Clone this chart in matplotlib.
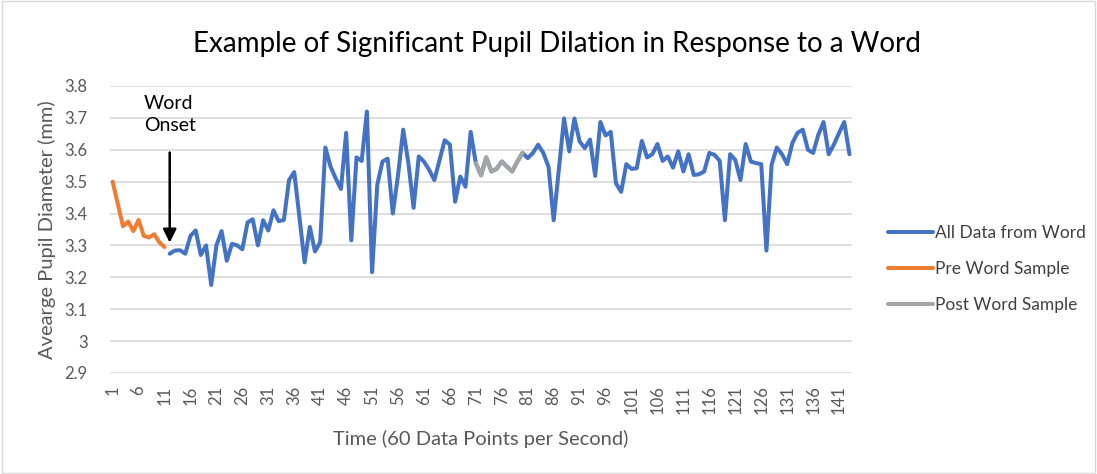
import matplotlib
matplotlib.use('Agg')
import matplotlib.pyplot as plt
from matplotlib.patches import Rectangle

#%% Data

pre_x = list(range(1, 12))
pre_y = [3.50, 3.43, 3.36, 3.375, 3.345, 3.38, 3.33, 3.325, 3.335, 3.31, 3.295]

all_x = list(range(12, 144))
all_y = [3.274, 3.284, 3.285, 3.274, 3.33, 3.347, 3.27, 3.30, 3.176, 3.30,
         3.345, 3.252, 3.305, 3.30, 3.288, 3.372, 3.382, 3.30, 3.379, 3.347,
         3.41, 3.376, 3.38, 3.505, 3.53, 3.39, 3.247, 3.358, 3.281, 3.31,
         3.607, 3.547, 3.51, 3.477, 3.653, 3.316, 3.576, 3.565, 3.72, 3.216,
         3.49, 3.563, 3.572, 3.40, 3.52, 3.663, 3.558, 3.418, 3.579, 3.563,
         3.537, 3.505, 3.568, 3.63, 3.616, 3.437, 3.516, 3.484, 3.656, 3.558,
         3.52, 3.576, 3.532, 3.54, 3.563, 3.547, 3.532, 3.563, 3.59, 3.574,
         3.59, 3.616, 3.59, 3.547, 3.379, 3.54, 3.698, 3.595, 3.698, 3.626,
         3.605, 3.632, 3.518, 3.687, 3.645, 3.656, 3.495, 3.468, 3.555, 3.54,
         3.542, 3.628, 3.576, 3.586, 3.618, 3.565, 3.579, 3.544, 3.595, 3.532,
         3.586, 3.521, 3.523, 3.532, 3.59, 3.584, 3.565, 3.379, 3.586, 3.568,
         3.505, 3.618, 3.563, 3.558, 3.555, 3.284, 3.553, 3.607, 3.586, 3.555,
         3.621, 3.653, 3.663, 3.60, 3.59, 3.647, 3.687, 3.586, 3.616, 3.653,
         3.687, 3.586]

post_x = list(range(71, 81))
post_y = [3.558, 3.52, 3.576, 3.532, 3.54, 3.563, 3.547, 3.532, 3.563, 3.59]

xtick_vals = list(range(1, 144, 5))
ytick_vals = [2.9, 3.0, 3.1, 3.2, 3.3, 3.4, 3.5, 3.6, 3.7, 3.8]
ytick_labels = ['2.9', '3', '3.1', '3.2', '3.3', '3.4', '3.5', '3.6', '3.7', '3.8']

#%% Plot

plt.rcParams['font.family'] = 'Lato'
text_grey = '#595959'
lw = 2.9

fig = plt.figure(figsize=(10.97, 4.74), dpi=100)
ax = fig.add_axes([0.1003, 0.2131, 0.6764, 0.6055])

ax.plot(all_x, all_y, color='#4472C4', lw=lw, label='All Data from Word', solid_capstyle='round')
ax.plot(pre_x, pre_y, color='#ED7D31', lw=lw, label='Pre Word Sample', solid_capstyle='round')
ax.plot(post_x, post_y, color='#A5A5A5', lw=lw, label='Post Word Sample', solid_capstyle='round')

ax.set_xlim(0.5, 143.5)
ax.set_ylim(2.9, 3.8)
ax.set_xticks(xtick_vals)
ax.set_xticklabels([str(v) for v in xtick_vals], rotation=90)
ax.set_yticks(ytick_vals)
ax.set_yticklabels(ytick_labels)
ax.tick_params(axis='both', length=0, labelsize=12, colors=text_grey)
ax.tick_params(axis='x', pad=9)
ax.tick_params(axis='y', pad=16)
ax.grid(axis='y', color='#D9D9D9', lw=1.2)
ax.set_axisbelow(True)
for s in ax.spines.values():
    s.set_visible(False)

ax.set_ylabel('Avearge Pupil Diameter (mm)', fontsize=14.5, color=text_grey, labelpad=6)
ax.set_xlabel('Time (60 Data Points per Second)', fontsize=14.5, color=text_grey, labelpad=11)
fig.text(0.508, 0.907, 'Example of Significant Pupil Dilation in Response to a Word',
         ha='center', va='center', fontsize=20, color='black')

# word onset marker
ax.annotate('', xy=(12, 3.30), xytext=(12, 3.60),
            arrowprops=dict(arrowstyle='-|>', color='black', lw=1.8, mutation_scale=20))
ax.text(7.0, 3.71, 'Word\nOnset', fontsize=14, color='black', va='center', ha='left', linespacing=1.35)

leg = ax.legend(loc='center left', bbox_to_anchor=(0.795, 0.4325), bbox_transform=fig.transFigure,
                frameon=False, fontsize=12.5, handlelength=2.6, handletextpad=0.1,
                labelspacing=1.15)
for t in leg.get_texts():
    t.set_color('#404040')

fig.patches.append(Rectangle((0.002, 0.002), 0.996, 0.996, transform=fig.transFigure,
                             fill=False, edgecolor='#D9D9D9', lw=1))

fig.savefig('out.png', dpi=100)
plt.close()
